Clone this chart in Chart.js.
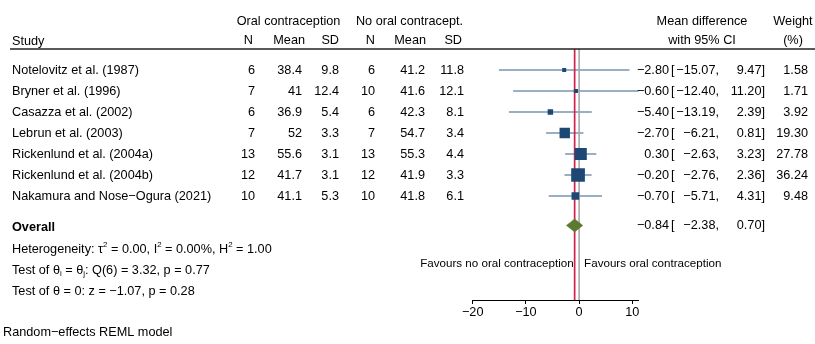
<!DOCTYPE html>
<html><head><meta charset="utf-8">
<script src="https://cdn.jsdelivr.net/npm/chart.js@4.4.1/dist/chart.umd.min.js"></script>
<style>html,body{margin:0;padding:0;background:#fff;overflow:hidden}#wrap{width:815px;height:344px}</style>
</head><body><div id="wrap"><canvas id="c" width="815" height="344"></canvas></div>
<script>
// ---- data ----
const studies = ["Notelovitz et al. (1987)","Bryner et al. (1996)","Casazza et al. (2002)","Lebrun et al. (2003)","Rickenlund et al. (2004a)","Rickenlund et al. (2004b)","Nakamura and Nose\u2212Ogura (2021)"];
const ocN = [6,7,6,7,13,12,10];
const ocMean = [38.4,41,36.9,52,55.6,41.7,41.1];
const ocSD = [9.8,12.4,5.4,3.3,3.1,3.1,5.3];
const nocN = [6,10,6,7,13,12,10];
const nocMean = [41.2,41.6,42.3,54.7,55.3,41.9,41.8];
const nocSD = [11.8,12.1,8.1,3.4,4.4,3.3,6.1];
const md = [-2.80,-0.60,-5.40,-2.70,0.30,-0.20,-0.70];
const ciLo = [-15.07,-12.40,-13.19,-6.21,-2.63,-2.76,-5.71];
const ciHi = [9.47,11.20,2.39,0.81,3.23,2.36,4.31];
const weights = [1.58,1.71,3.92,19.30,27.78,36.24,9.48];
const overallEst = [-0.84];
const overallCI = [-2.38, 0.70];
const xTicks = [-20,-10,0,10];

// ---- layout constants ----
const FF = '"Liberation Sans", Arial, sans-serif';
const FS = 12.7;
const TOP = 49, BOTTOM = 300, ROW_H = 21.0, FIRST_ROW_PX = 70;
const PX_LEFT = 472.7, PX_RIGHT = 638.7;
const yMin = 1 - (FIRST_ROW_PX - TOP) / ROW_H;
const yMax = yMin + (BOTTOM - TOP) / ROW_H;
const overallRow = studies.length + 1.4;
const NAVY = '#1c4873';

const minus = s => String(s).replace('-', '\u2212');
const f2 = v => (v < 0 ? '\u2212' : '') + Math.abs(v).toFixed(2);

const datasets = [];
// markers
datasets.push({
  data: md.map((v, i) => ({x: v, y: i + 1})),
  pointStyle: 'rect',
  pointRadius: weights.map(w => (1.43 + 2.04 * Math.sqrt(w)) / Math.SQRT2),
  backgroundColor: NAVY, borderWidth: 0, showLine: false, order: 0
});
// overall diamond
datasets.push({
  data: [
    {x: overallCI[0], y: overallRow},
    {x: overallEst[0], y: overallRow - 6.5 / ROW_H},
    {x: overallCI[1], y: overallRow},
    {x: overallEst[0], y: overallRow + 6.5 / ROW_H},
    {x: overallCI[0], y: overallRow}
  ],
  showLine: true, fill: 'shape', backgroundColor: '#5b7a30', borderColor: '#5b7a30',
  borderWidth: 0.5, pointRadius: 0, tension: 0, order: 1
});
// reference lines
datasets.push({
  data: [{x: 0, y: yMin}, {x: 0, y: yMax}], showLine: true, pointRadius: 0,
  borderColor: '#a8a8a8', borderWidth: 1.6, order: 2
});
datasets.push({
  data: [{x: overallEst[0], y: yMin}, {x: overallEst[0], y: yMax}], showLine: true, pointRadius: 0,
  borderColor: '#d0214f', borderWidth: 1.7, order: 2
});
// CI lines
md.forEach((v, i) => {
  datasets.push({
    data: [{x: ciLo[i], y: i + 1}, {x: ciHi[i], y: i + 1}], showLine: true, pointRadius: 0,
    borderColor: '#36618c', borderWidth: 1.2, order: 3
  });
});

function rich(ctx, x, y, parts) {
  let cx = x;
  for (const [t, m] of parts) {
    if (!m) { ctx.font = FS + 'px ' + FF; ctx.fillText(t, cx, y); }
    else { ctx.font = (FS * 0.62) + 'px ' + FF; ctx.fillText(t, cx, y + (m === 1 ? -FS * 0.33 : FS * 0.3)); }
    cx += ctx.measureText(t).width;
  }
}

const textPlugin = {
  id: 'forestText',
  afterDraw(chart) {
    const ctx = chart.ctx, ys = chart.scales.y;
    ctx.save();
    ctx.fillStyle = '#000';
    ctx.textBaseline = 'middle';
    ctx.font = FS + 'px ' + FF;
    // header
    ctx.textAlign = 'center';
    ctx.fillText('Oral contraception', 288.5, 21.5);
    ctx.fillText('No oral contracept.', 409.5, 21.5);
    ctx.fillText('Mean difference', 702, 21.5);
    ctx.fillText('with 95% CI', 702, 40.5);
    ctx.fillText('Weight', 793, 21.5);
    ctx.fillText('(%)', 793, 40.5);
    ctx.textAlign = 'left';
    ctx.fillText('Study', 12, 41.5);
    ctx.textAlign = 'right';
    [['N', 253], ['Mean', 305], ['SD', 339], ['N', 375], ['Mean', 426], ['SD', 462]].forEach(([t, x]) => ctx.fillText(t, x, 40.5));
    // header rule
    ctx.strokeStyle = '#222'; ctx.lineWidth = 1.3;
    ctx.beginPath(); ctx.moveTo(10, TOP); ctx.lineTo(815, TOP); ctx.stroke();
    // rows
    studies.forEach((s, i) => {
      const y = ys.getPixelForValue(i + 1);
      ctx.textAlign = 'left';
      ctx.fillText(s, 12, y);
      ctx.textAlign = 'right';
      ctx.fillText(String(ocN[i]), 255, y);
      ctx.fillText(String(ocMean[i]), 302, y);
      ctx.fillText(String(ocSD[i]), 339, y);
      ctx.fillText(String(nocN[i]), 375, y);
      ctx.fillText(String(nocMean[i]), 425, y);
      ctx.fillText(String(nocSD[i]), 464, y);
      ctx.fillText(f2(md[i]), 669, y);
      ctx.textAlign = 'left';
      ctx.fillText('[', 671, y);
      ctx.textAlign = 'right';
      ctx.fillText(f2(ciLo[i]) + ',', 719, y);
      ctx.fillText(f2(ciHi[i]) + ']', 765, y);
      ctx.fillText(weights[i].toFixed(2), 808, y);
    });
    // overall
    const yo = ys.getPixelForValue(overallRow);
    ctx.textAlign = 'right';
    ctx.fillText(f2(overallEst[0]), 669, yo);
    ctx.textAlign = 'left';
    ctx.fillText('[', 671, yo);
    ctx.textAlign = 'right';
    ctx.fillText(f2(overallCI[0]) + ',', 719, yo);
    ctx.fillText(f2(overallCI[1]) + ']', 765, yo);
    ctx.textAlign = 'left';
    ctx.font = 'bold ' + FS + 'px ' + FF;
    ctx.fillText('Overall', 12, yo + 2.5);
    ctx.font = FS + 'px ' + FF;
    rich(ctx, 12, yo + 24, [['Heterogeneity: \u03c4'], ['2', 1], [' = 0.00, I'], ['2', 1], [' = 0.00%, H'], ['2', 1], [' = 1.00']]);
    rich(ctx, 12, yo + 45, [['Test of \u03b8'], ['i', 2], [' = \u03b8'], ['j', 2], [': Q(6) = 3.32, p = 0.77']]);
    ctx.font = FS + 'px ' + FF;
    ctx.fillText('Test of \u03b8 = 0: z = \u22121.07, p = 0.28', 12, yo + 66);
    ctx.fillText('Random\u2212effects REML model', 3, yo + 107.5);
    // favours
    const x0 = chart.scales.x.getPixelForValue(0);
    const xr = chart.scales.x.getPixelForValue(overallEst[0]);
    ctx.font = '11.6px ' + FF;
    ctx.textAlign = 'right';
    ctx.fillText('Favours no oral contraception', xr - 1, yo + 38.5);
    ctx.textAlign = 'left';
    ctx.fillText('Favours oral contraception', x0 + 5, yo + 38.5);
    ctx.restore();
  }
};

new Chart(document.getElementById('c'), {
  type: 'scatter',
  data: {datasets},
  options: {
    responsive: false, animation: false, events: [],
    layout: {padding: {left: PX_LEFT, right: 815 - PX_RIGHT, top: TOP, bottom: 344 - BOTTOM - 30}},
    plugins: {legend: {display: false}, tooltip: {enabled: false}},
    scales: {
      x: {
        type: 'linear', min: xTicks[0], max: Math.max(...ciHi),
        afterBuildTicks: s => { s.ticks = xTicks.map(v => ({value: v})); },
        afterFit: s => { s.height = 30; },
        grid: {display: true, drawOnChartArea: false, drawTicks: true, tickLength: 4, color: '#000', lineWidth: 1},
        border: {display: true, color: '#000', width: 1},
        ticks: {color: '#000', font: {family: FF, size: FS}, padding: 1, autoSkip: false, maxRotation: 0,
                callback: v => minus(v)}
      },
      y: {type: 'linear', display: false, reverse: true, min: yMin, max: yMax}
    }
  },
  plugins: [textPlugin]
});
</script></body></html>
